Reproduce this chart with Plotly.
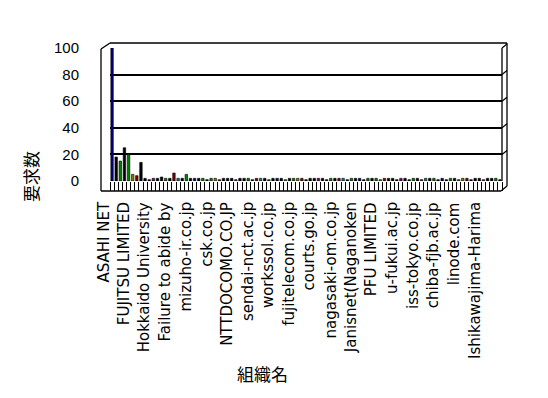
import plotly.graph_objects as go

# ---- data ----
label_names = ["ASAHI NET", "FUJITSU LIMITED", "Hokkaido University", "Failure to abide by",
               "mizuho-ir.co.jp", "csk.co.jp", "NTTDOCOMO.CO.JP", "sendai-nct.ac.jp",
               "workssol.co.jp", "fujitelecom.co.jp", "courts.go.jp", "nagasaki-om.co.jp",
               "Janisnet(Naganoken", "PFU LIMITED", "u-fukui.ac.jp", "iss-tokyo.co.jp",
               "chiba-fjb.ac.jp", "linode.com", "Ishikawajima-Harima"]
requests = [100, 18, 15, 25, 20, 5, 4, 14, 2, 1,
            2, 2, 3, 2, 2, 6, 2, 2, 5, 2,
            2, 2, 2, 1, 2, 2, 1, 2, 2, 2,
            1, 2, 2, 2, 1, 2, 2, 2, 1, 2,
            2, 2, 1, 2, 2, 2, 2, 1, 2, 2,
            2, 2, 1, 2, 2, 2, 2, 1, 2, 2,
            2, 1, 2, 2, 2, 1, 2, 2, 2, 1,
            2, 2, 1, 2, 2, 1, 2, 2, 2, 1,
            2, 1, 2, 2, 1, 2, 2, 1, 2, 2,
            1, 2, 2, 2, 1]
palette = ["#000080", "#000000", "#008000", "#000000", "#008000", "#808000", "#800000",
           "#000000", "#000000", "#000000", "#800080", "#000000", "#000000", "#008000",
           "#000000", "#800000", "#008080", "#000000", "#008000", "#000000"]
y_ticks = [0, 20, 40, 60, 80, 100]

n = len(requests)
x_idx = list(range(n))
bar_colors = [palette[i % len(palette)] for i in range(n)]
label_pos = [i * 5 for i in range(len(label_names))]

fig = go.Figure()
fig.add_trace(go.Bar(x=x_idx, y=requests, width=0.6,
                     marker=dict(color=bar_colors, line=dict(color="#000000", width=0.6))))

L, R, T, B = 102, 494, 40, 173
W, H = 548, 398

def dx(px):
    return (px - L) / (R - L)

def dy(py):
    return (B - py) / (B - T)

shapes = []
def seg(x0, y0, x1, y1, w=1.3):
    shapes.append(dict(type="line", xref="x domain", yref="y domain",
                       x0=dx(x0), y0=dy(y0), x1=dx(x1), y1=dy(y1),
                       line=dict(color="black", width=w)))

seg(93, 41, 93, 183)       # front-left axis
seg(93, 41, 102, 35)       # top-left diagonal
seg(102, 35, 499, 35)      # top back edge
seg(499, 35, 499, 178)     # right outer edge
seg(494, 40, 494, 173)     # back wall right
seg(93, 183, 493, 183)     # front floor edge
seg(493, 183, 499, 178)    # bottom-right diagonal
for g in y_ticks[1:]:
    py = B - g / 100 * (B - T)
    seg(494, py, 499, py - 4)

annotations = []
for pos, name in zip(label_pos, label_names):
    annotations.append(dict(text=name, xref="x", yref="paper", x=pos, y=dy(192),
                            xshift=-9, showarrow=False, textangle=-90,
                            xanchor="center", yanchor="top",
                            font=dict(family="DejaVu Sans", size=15)))
annotations += [
    dict(text="組織名", xref="paper", yref="paper", showarrow=False,
         x=(254 - L) / (R - L), y=-(365 - B) / (B - T),
         xanchor="center", yanchor="middle",
         font=dict(family="Noto Sans CJK JP", size=17)),
    dict(text="要求数", xref="paper", yref="paper", showarrow=False,
         x=(22 - L) / (R - L), y=(B - 169) / (B - T), textangle=-90,
         xanchor="center", yanchor="middle",
         font=dict(family="Noto Sans CJK JP", size=17)),
]

fig.update_layout(
    width=W, height=H,
    margin=dict(l=L, r=W - R, t=T, b=H - B, pad=0),
    paper_bgcolor="white", plot_bgcolor="white",
    showlegend=False, bargap=0.4,
    font=dict(family="DejaVu Sans", color="black", size=13),
    shapes=shapes,
    xaxis=dict(range=[-0.5, n - 0.5], tickmode="array", tickvals=label_pos,
               showticklabels=False,
               ticks="", showgrid=False, zeroline=False, showline=False,
               minor=dict(tickmode="linear", tick0=-0.5, dtick=1, ticks="outside",
                          ticklen=9, tickcolor="black", tickwidth=1, showgrid=False)),
    yaxis=dict(range=[0, 100], tickvals=y_ticks, showgrid=True, gridcolor="black",
               gridwidth=1.5, zeroline=False, showline=False, ticks="",
               ticklabelstandoff=30,
               tickfont=dict(family="Liberation Sans", size=15)),
    annotations=annotations,
)

fig.write_html("out.html")
